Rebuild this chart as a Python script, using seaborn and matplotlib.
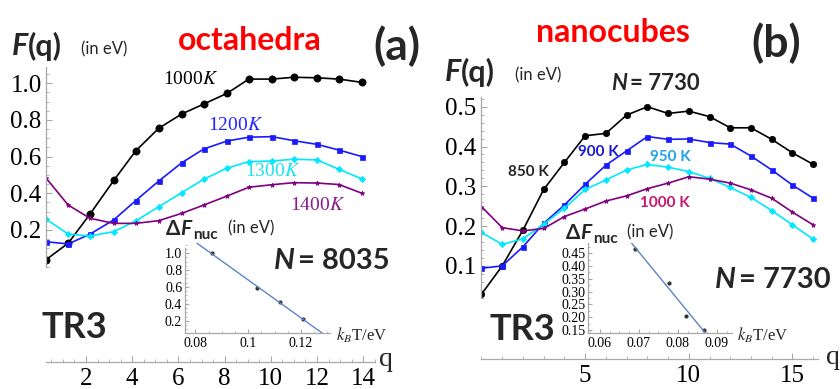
import numpy as np
import pandas as pd
import matplotlib
matplotlib.use("Agg")
import matplotlib.pyplot as plt
from matplotlib.ticker import FixedLocator, MultipleLocator, FixedFormatter
import seaborn as sns

# ---------------- data ----------------
q_oct = [0.26, 1.23, 2.17, 3.2, 4.15, 5.15, 6.15, 7.1, 8.1, 9.05, 10.05, 11.0, 12.0, 12.95, 13.95]
oct_1000 = [0.037, 0.128, 0.286, 0.47, 0.631, 0.755, 0.833, 0.887, 0.945, 1.023, 1.023, 1.033, 1.03, 1.023, 1.005]
oct_1200 = [0.136, 0.124, 0.177, 0.255, 0.36, 0.467, 0.567, 0.642, 0.685, 0.706, 0.709, 0.687, 0.667, 0.636, 0.6]
oct_1300 = [0.26, 0.178, 0.167, 0.191, 0.249, 0.327, 0.404, 0.477, 0.537, 0.573, 0.576, 0.586, 0.582, 0.531, 0.478]
oct_1400 = [0.485, 0.336, 0.264, 0.236, 0.236, 0.251, 0.291, 0.336, 0.385, 0.433, 0.447, 0.458, 0.456, 0.448, 0.4]

q_cube = [0, 1, 2, 3, 4, 5, 6, 7, 8, 9, 10, 11, 12, 13, 14, 15, 16]
cube_850 = [0.029, 0.1, 0.19, 0.292, 0.36, 0.427, 0.433, 0.479, 0.5, 0.483, 0.489, 0.475, 0.447, 0.447, 0.418, 0.384, 0.355]
cube_900 = [0.094, 0.1, 0.148, 0.207, 0.253, 0.305, 0.353, 0.389, 0.425, 0.418, 0.419, 0.41, 0.406, 0.376, 0.341, 0.303, 0.27]
cube_950 = [0.184, 0.154, 0.168, 0.205, 0.245, 0.292, 0.316, 0.341, 0.355, 0.348, 0.337, 0.32, 0.297, 0.272, 0.239, 0.203, 0.167]
cube_1000 = [0.249, 0.196, 0.188, 0.194, 0.224, 0.243, 0.263, 0.276, 0.294, 0.308, 0.324, 0.318, 0.308, 0.291, 0.27, 0.235, 0.203]

kT_oct = [0.0862, 0.1034, 0.1120, 0.1206]
dF_oct = [1.0, 0.59, 0.42, 0.225]
kT_cube = [0.069, 0.0778, 0.0822, 0.0867]
dF_cube = [0.467, 0.333, 0.206, 0.149]

oct_xticks = [2, 4, 6, 8, 10, 12, 14]
oct_yticks = [0.2, 0.4, 0.6, 0.8, 1.0]
cube_xticks = [5, 10, 15]
cube_yticks = [0.1, 0.2, 0.3, 0.4, 0.5]
ins_oct_xticks = [0.08, 0.10, 0.12]
ins_oct_xlabels = ["0.08", "0.1", "0.12"]
ins_oct_yticks = [0.2, 0.4, 0.6, 0.8, 1.0]
ins_cube_xticks = [0.06, 0.07, 0.08, 0.09]
ins_cube_yticks = [0.15, 0.20, 0.25, 0.30, 0.35, 0.40, 0.45]

# ---------------- style ----------------
sns.set_style("white")
plt.rcParams["font.family"] = ["Liberation Serif", "DejaVu Serif"]
plt.rcParams["mathtext.fontset"] = "stix"

W, H = 840, 389
fig = plt.figure(figsize=(W / 100, H / 100), dpi=100)
SPINE = "#a8a8a8"
SANS = ["Lato", "DejaVu Sans"]


def px_axes(x0, y0, x1, y1):
    return fig.add_axes([x0 / W, 1 - y1 / H, (x1 - x0) / W, (y1 - y0) / H])


def txt(x, y, s, size, ha="left", va="center", **kw):
    fig.text(x / W, 1 - y / H, s, fontsize=size, ha=ha, va=va, **kw)


def style_axes(ax, lblsize, pad_x, pad_y, ticklen=4):
    ax.patch.set_alpha(0)
    for s in ["top", "right"]:
        ax.spines[s].set_visible(False)
    for s in ["left", "bottom"]:
        ax.spines[s].set_color(SPINE)
        ax.spines[s].set_linewidth(0.9)
    ax.tick_params(which="major", direction="in", length=ticklen, width=0.8, color=SPINE,
                   labelsize=lblsize, labelcolor="black")
    ax.tick_params(which="minor", direction="in", length=ticklen * 0.55, width=0.6, color=SPINE)
    ax.tick_params(axis="x", which="both", pad=pad_x, bottom=True)
    ax.tick_params(axis="y", which="both", pad=pad_y, left=True)
    ax.set_xlabel("")
    ax.set_ylabel("")


def series(ax, x, y, color, marker, ms):
    sns.lineplot(x=x, y=y, ax=ax, color=color, marker=marker, markersize=ms,
                 markeredgecolor=color, markeredgewidth=0.5, linewidth=1.2, sort=False)


# ---------------- left main ----------------
axL = px_axes(45.8, 61.3, 375, 362)
series(axL, q_oct, oct_1000, "black", "o", 5.2)
series(axL, q_oct, oct_1200, "#1a1aff", "s", 3.6)
series(axL, q_oct, oct_1300, "#00e8ff", "D", 3.2)
series(axL, q_oct, oct_1400, "#800080", "*", 3.5)
axL.set_xlim(0.26, 14.51)
axL.set_ylim(-0.52, 1.12)
axL.xaxis.set_major_locator(FixedLocator(oct_xticks))
axL.xaxis.set_minor_locator(MultipleLocator(0.5))
axL.yaxis.set_major_locator(FixedLocator(oct_yticks))
axL.set_yticklabels([f"{v:.1f}" for v in oct_yticks])
style_axes(axL, 18, 4, 3)
axL.spines["left"].set_bounds(0.0, 1.09)
axL.set_yticks([v for v in np.arange(0.0, 1.0901, 0.05)], minor=True)

# ---------------- right main ----------------
axR = px_axes(481.5, 90.8, 818, 359)
series(axR, q_cube, cube_850, "black", "o", 4.6)
series(axR, q_cube, cube_900, "#1a1aff", "s", 3.6)
series(axR, q_cube, cube_950, "#00e8ff", "D", 3.2)
series(axR, q_cube, cube_1000, "#800080", "*", 3.5)
axR.set_xlim(0, 16.23)
axR.set_ylim(-0.134, 0.54)
axR.xaxis.set_major_locator(FixedLocator(cube_xticks))
axR.xaxis.set_minor_locator(MultipleLocator(1))
axR.yaxis.set_major_locator(FixedLocator(cube_yticks))
axR.set_yticklabels([f"{v:.1f}" for v in cube_yticks])
style_axes(axR, 18, 4, 4)
axR.spines["left"].set_bounds(0.02, 0.525)
axR.set_yticks([v for v in np.arange(0.02, 0.5201, 0.02)], minor=True)

# ---------------- insets ----------------
def inset(box, kx, dy, xlim, ylim, xticks, xlabels, yticks, ylabels, ybounds, xminor, yminor):
    ax = px_axes(*box)
    ax.set_xlim(*xlim)
    ax.set_ylim(*ylim)
    sns.regplot(x=kx, y=dy, ax=ax, ci=None, truncate=False,
                scatter_kws=dict(s=9, color="black", linewidths=0),
                line_kws=dict(color="#5b86c5", linewidth=1.0))
    ax.set_xlim(*xlim)
    ax.set_ylim(*ylim)
    ax.xaxis.set_major_locator(FixedLocator(xticks))
    ax.xaxis.set_major_formatter(FixedFormatter(xlabels))
    ax.yaxis.set_major_locator(FixedLocator(yticks))
    ax.yaxis.set_major_formatter(FixedFormatter(ylabels))
    ax.xaxis.set_minor_locator(MultipleLocator(xminor))
    ax.yaxis.set_minor_locator(MultipleLocator(yminor))
    style_axes(ax, 10, 3, 2, ticklen=3)
    ax.spines["left"].set_bounds(*ybounds)
    return ax


inset((185, 243, 330, 333), kT_oct, dF_oct, (0.0761, 0.131), (0.055, 1.12),
      ins_oct_xticks, ins_oct_xlabels, ins_oct_yticks, [f"{v:.1f}" for v in ins_oct_yticks],
      (0.055, 1.06), 0.005, 0.05)
inset((588.3, 243.3, 731.7, 333.3), kT_cube, dF_cube, (0.057, 0.0938), (0.137, 0.489),
      ins_cube_xticks, [f"{v:.2f}" for v in ins_cube_xticks], ins_cube_yticks,
      [f"{v:.2f}" for v in ins_cube_yticks], (0.137, 0.489), 0.0025, 0.025)

# ---------------- texts: left ----------------
txt(12, 46, "F", 22, weight="bold", style="italic", family=SANS)
txt(28, 46, "(q)", 22, weight="bold", family=SANS)
txt(81, 49, "(in eV)", 12, family=SANS)
txt(250, 40, "octahedra", 23, ha="center", weight="bold", color="#ff0000", family=SANS)
txt(373, 46, "(a)", 32, weight="bold", family=SANS)
txt(163, 80, "1000$K$", 14, color="black")
txt(208, 125, "1200$K$", 14, color="#2323ff")
txt(245, 172, "1300$K$", 14, color="#19e3f0")
txt(290, 205, "1400$K$", 14, color="#8b1a8b")
txt(166, 229, "\u0394", 15, weight="bold", family=SANS)
txt(180, 229, "F", 15, weight="bold", style="italic", family=SANS)
txt(193, 235, "nuc", 11, weight="bold", family=SANS)
txt(228, 228, "(in eV)", 12, family=SANS)
txt(274, 261, "N", 21, weight="bold", style="italic", family=SANS)
txt(298, 261, "= 8035", 21, weight="bold", family=SANS)
txt(42, 328, "TR3", 26, weight="bold", family=SANS)
txt(379, 360, "q", 20)
txt(336, 335, "$k_B$T/eV", 12)

# ---------------- texts: right ----------------
txt(445, 72, "F", 22, weight="bold", style="italic", family=SANS)
txt(461, 72, "(q)", 22, weight="bold", family=SANS)
txt(515, 75, "(in eV)", 12, family=SANS)
txt(613, 32, "nanocubes", 23, ha="center", weight="bold", color="#ff0000", family=SANS)
txt(751, 43, "(b)", 32, weight="bold", family=SANS)
txt(611, 84, "N", 16, weight="bold", style="italic", family=SANS)
txt(630, 84, "= 7730", 16, weight="bold", family=SANS)
txt(508, 172, "850 K", 11, weight="bold", family=SANS)
txt(578, 152, "900 K", 11, weight="bold", color="#1a1acc", family=SANS)
txt(650, 157, "950 K", 11, weight="bold", color="#1ea2e8", family=SANS)
txt(640, 203, "1000 K", 11, weight="bold", color="#c8156e", family=SANS)
txt(566, 233, "\u0394", 15, weight="bold", family=SANS)
txt(580, 233, "F", 15, weight="bold", style="italic", family=SANS)
txt(593, 239, "nuc", 11, weight="bold", family=SANS)
txt(627, 232, "(in eV)", 12, family=SANS)
txt(715, 280, "N", 21, weight="bold", style="italic", family=SANS)
txt(739, 280, "= 7730", 21, weight="bold", family=SANS)
txt(489, 330, "TR3", 26, weight="bold", family=SANS)
txt(826, 358, "q", 20)
txt(737, 335, "$k_B$T/eV", 12)

fig.savefig("out.png", dpi=100)
